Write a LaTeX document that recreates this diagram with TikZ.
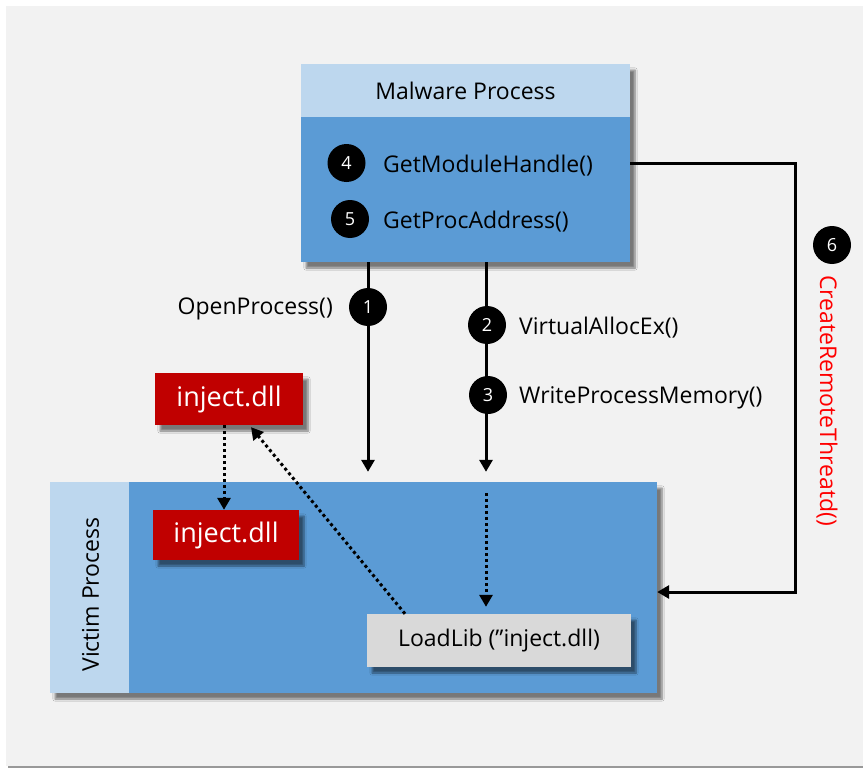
\documentclass[tikz,border=0pt]{standalone}
\usepackage{fontspec}
\setmainfont{Open Sans}
\usetikzlibrary{arrows.meta,shadows.blur}
\definecolor{bodyblue}{HTML}{5B9BD5}
\definecolor{hdrblue}{HTML}{BDD7EE}
\definecolor{dllred}{HTML}{C00000}
\definecolor{libgrey}{HTML}{D9D9D9}
\definecolor{bggrey}{HTML}{F2F2F2}
\definecolor{crtred}{HTML}{FF0000}
\tikzset{
  lbl/.style={font=\fontsize{23}{28}\selectfont, inner sep=0pt},
  panel/.style={inner sep=0pt, draw=none},
  boxshadow/.style={blur shadow={shadow xshift=5pt, shadow yshift=-6pt, shadow blur steps=6, shadow opacity=50}},
  num/.style={circle, fill=black, text=white, minimum size=38pt, inner sep=0pt, font=\fontsize{18}{20}\selectfont},
  dllbox/.style={panel, fill=dllred, text=white, font=\fontsize{27}{32}\selectfont, boxshadow},
  flow/.style={line width=3pt, -{Triangle[length=12pt,width=13pt]}},
  dotflow/.style={line width=3pt, dash pattern=on 3pt off 3pt, -{Triangle[length=12pt,width=13pt]}}
}
\begin{document}
\begin{tikzpicture}[x=1pt,y=-1pt]
\useasboundingbox (0,0) rectangle (863,768);
% canvas
\fill[white] (0,0) rectangle (863,768);
\fill[bggrey] (6,6) rectangle (863,766);
\draw[gray!80, line width=1.5pt] (8,767) -- (863,767);

% malware process box
\node[panel, fill=bodyblue, minimum width=329, minimum height=198, boxshadow] (mal) at (465.5,163) {};
\node[panel, fill=hdrblue, minimum width=329, minimum height=53, anchor=north, lbl] (malhdr) at (mal.north) {Malware Process};
\node[num] (s4) at (346.5,163) {4};
\node[num] (s5) at (350,219) {5};
\node[lbl, anchor=west] (t4) at (383,166) {GetModuleHandle()};
\node[lbl, anchor=west] (t5) at (383,222) {GetProcAddress()};

% victim process box
\node[panel, fill=bodyblue, minimum width=607, minimum height=211, boxshadow] (vic) at (353.5,587.5) {};
\node[panel, fill=hdrblue, minimum width=79, minimum height=211, anchor=west] (vichdr) at (vic.west) {};
\node[lbl, rotate=90] (victxt) at ([xshift=1pt,yshift=-7pt]vichdr.center) {Victim Process};

% dll boxes and loader call
\node[dllbox, minimum width=148, minimum height=52] (dllA) at (229,399) {inject.dll};
\node[dllbox, minimum width=146, minimum height=50] (dllB) at (226,535) {inject.dll};
\node[panel, fill=libgrey, minimum width=264, minimum height=53, lbl, boxshadow] (ll) at (499,640.5) {LoadLib (”inject.dll)};

% arrow columns
\coordinate (x1) at (368,0);
\coordinate (x2) at (486,0);
\coordinate (xd) at (224,0);
\coordinate (xr) at (795,0);
\coordinate (yr) at (0,592);

% calls from the malware process
\draw[flow] (x1 |- mal.south) -- ([yshift=10pt]x1 |- vic.north);
\draw[flow] (x2 |- mal.south) -- ([yshift=10pt]x2 |- vic.north);
\draw[flow] (mal.east) -- (xr |- mal.east) -- (xr |- yr) -- (vic.east |- yr);

% dotted flows inside the victim
\draw[dotflow] (xd |- dllA.south) -- (xd |- dllB.north);
\draw[dotflow] ([yshift=-11pt]x2 |- vic.north) -- ([yshift=7pt]x2 |- ll.north);
\draw[dotflow] ([xshift=-94pt]ll.north) -- ([xshift=22pt,yshift=-2pt]dllA.south);

% step markers and labels
\node[num] (s1) at (368,307) {1};
\node[lbl, anchor=east] (t1) at (333,309) {OpenProcess()};
\node[num] (s2) at (487,325) {2};
\node[lbl, anchor=west] (t2) at (519,328) {VirtualAllocEx()};
\node[num] (s3) at (488,395) {3};
\node[lbl, anchor=west] (t3) at (519,398) {WriteProcessMemory()};
\node[num] (s6) at (832,245) {6};
\node[lbl, rotate=-90, anchor=west, text=crtred] (t6) at (827,275) {CreateRemoteThreatd()};
\end{tikzpicture}
\end{document}
